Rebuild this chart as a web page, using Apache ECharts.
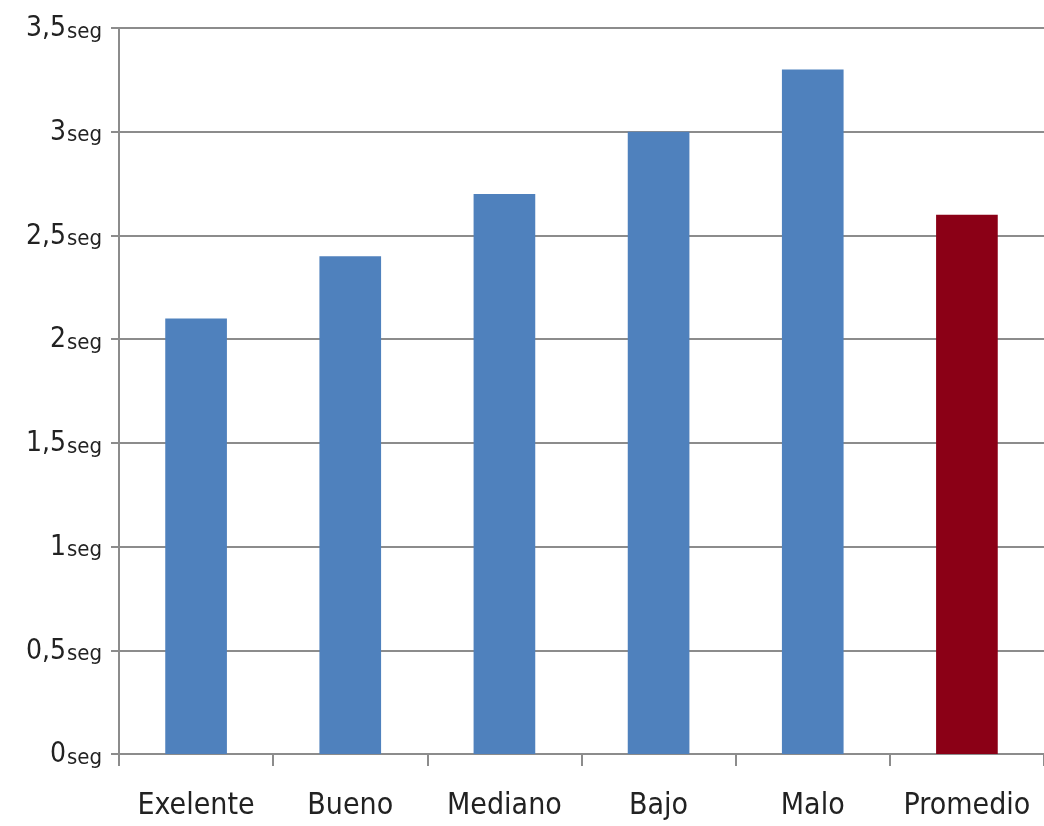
<!DOCTYPE html>
<html>
<head>
<meta charset="utf-8">
<script src="https://cdn.jsdelivr.net/npm/echarts@6/dist/echarts.min.js"></script>
<style>
  html, body { margin: 0; padding: 0; background: #ffffff; }
  #chart { width: 1044px; height: 826px; }
</style>
</head>
<body>
<div id="chart"></div>
<script>
// Response time per rating category (seconds)
const categories = ['Exelente', 'Bueno', 'Mediano', 'Bajo', 'Malo', 'Promedio'];
const values = [2.1, 2.4, 2.7, 3.0, 3.3, 2.6];
const barColors = ['#4f81bd', '#4f81bd', '#4f81bd', '#4f81bd', '#4f81bd', '#8b0016'];

const chart = echarts.init(document.getElementById('chart'));

chart.setOption({
  animation: false,
  backgroundColor: '#ffffff',
  grid: { left: 119, right: 0, top: 28, bottom: 72, containLabel: false },
  xAxis: {
    type: 'category',
    data: categories,
    axisLine: { lineStyle: { color: '#8c8c8c', width: 2 } },
    axisTick: { show: true, interval: 0, length: 12, lineStyle: { color: '#8c8c8c', width: 2 } },
    axisLabel: {
      interval: 0,
      hideOverlap: false,
      margin: 37,
      fontFamily: 'DejaVu Sans Condensed, sans-serif',
      fontSize: 30,
      color: '#222222'
    }
  },
  yAxis: {
    type: 'value',
    min: 0,
    max: 3.5,
    interval: 0.5,
    axisLine: { show: true, lineStyle: { color: '#8c8c8c', width: 2 } },
    axisTick: { show: true, length: 8, lineStyle: { color: '#8c8c8c', width: 2 } },
    splitLine: { lineStyle: { color: '#8c8c8c', width: 2 } },
    axisLabel: {
      margin: 17,
      formatter: function (v) {
        const n = String(v).replace('.', ',');
        return '{n|' + n + '}{s|seg}';
      },
      rich: {
        n: { fontFamily: 'DejaVu Sans Condensed, sans-serif', fontSize: 28, color: '#222222', verticalAlign: 'bottom', lineHeight: 30 },
        s: { fontFamily: 'DejaVu Sans Condensed, sans-serif', fontSize: 22, color: '#222222', verticalAlign: 'bottom', lineHeight: 27, padding: [0, 0, 0, 1] }
      }
    }
  },
  series: [{
    type: 'bar',
    barWidth: '40%',
    data: values.map((v, i) => ({ value: v, itemStyle: { color: barColors[i] } }))
  }]
});
</script>
</body>
</html>
